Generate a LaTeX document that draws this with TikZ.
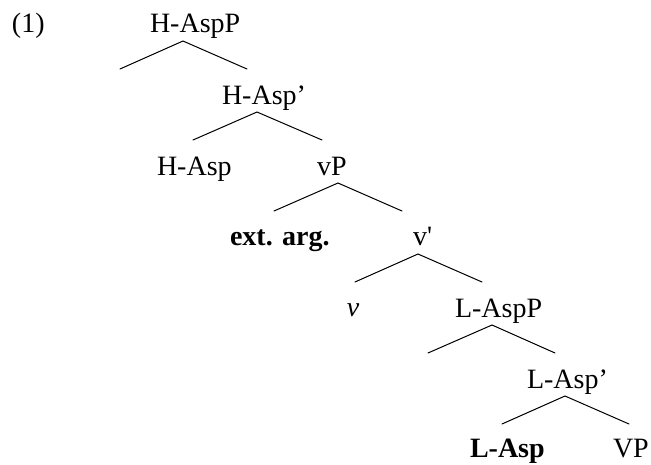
\documentclass[tikz,border=0pt]{standalone}
\usepackage{fontspec}
\setmainfont{Liberation Serif}
\begin{document}
\begin{tikzpicture}[x=1pt,y=-1pt,
  lbl/.style={inner sep=0pt,outer sep=0pt,anchor=base west,font=\fontsize{28}{34}\selectfont},
  branch/.style={line width=1pt,line cap=round}]
\useasboundingbox (0,0) rectangle (651,464);
% labels
\node[lbl] (ex) at (12,32) {(1)};
\node[lbl] (haspp) at (150,32) {H-AspP};
\node[lbl] (haspbar) at (222,104) {H-Asp’};
\node[lbl] (hasp) at (157,175) {H-Asp};
\node[lbl] (vp) at (317,175) {vP};
\node[lbl] (ext) at (230,245) {\bfseries ext. arg.};
\node[lbl] (vbar) at (413,245) {v\textquotesingle};
\node[lbl,anchor=base] (v) at (353,316) {\itshape v};
\node[lbl] (laspp) at (455,317) {L-AspP};
\node[lbl] (laspbar) at (527,388) {L-Asp’};
\node[lbl] (lasp) at (470,457) {\bfseries L-Asp};
\node[lbl] (vpl) at (613,457) {VP};
% branch points
\coordinate (a1) at (183,41);  \coordinate (l1) at (120,69);  \coordinate (r1) at (247,69);
\coordinate (a2) at (257,112); \coordinate (l2) at (193,140); \coordinate (r2) at (322,140);
\coordinate (a3) at (338,183); \coordinate (l3) at (274,211); \coordinate (r3) at (402,211);
\coordinate (a4) at (418,254); \coordinate (l4) at (355,282); \coordinate (r4) at (482,282);
\coordinate (a5) at (492,325); \coordinate (l5) at (428,353); \coordinate (r5) at (555,353);
\coordinate (a6) at (565,396); \coordinate (l6) at (502,424); \coordinate (r6) at (629,424);
\foreach \i in {1,...,6}{
  \draw[branch] (l\i) -- (a\i) -- (r\i);
}
\end{tikzpicture}
\end{document}
